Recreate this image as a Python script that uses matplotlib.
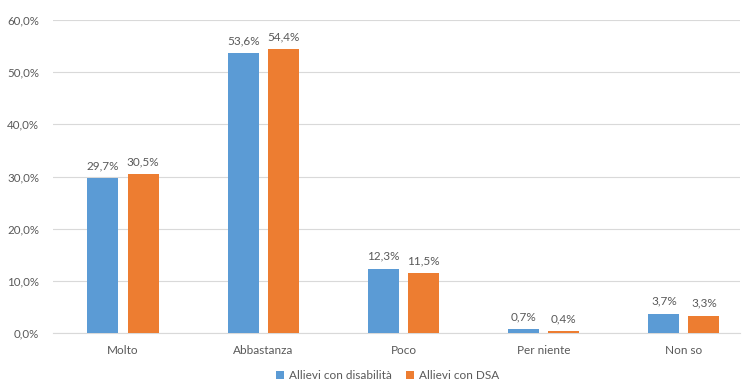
import matplotlib
matplotlib.use("Agg")
import matplotlib.pyplot as plt
import numpy as np

categories = ["Molto", "Abbastanza", "Poco", "Per niente", "Non so"]
disabilita = [29.7, 53.6, 12.3, 0.7, 3.7]
dsa = [30.5, 54.4, 11.5, 0.4, 3.3]
series_names = ["Allievi con disabilità", "Allievi con DSA"]
yticks = [0, 10, 20, 30, 40, 50, 60]

plt.rcParams['font.family'] = ['Lato', 'DejaVu Sans']
txt = '#595959'
blue = '#5B9BD5'
orange = '#ED7D31'

W, H = 745, 383
fig = plt.figure(figsize=(W / 100, H / 100), dpi=100)
ax = fig.add_axes([53 / W, 1 - 333 / H, (740 - 53) / W, (333 - 20) / H])

x = np.arange(len(categories))
w = 0.221
off = 0.143
b1 = ax.bar(x - off, disabilita, w, color=blue, label=series_names[0], zorder=3)
b2 = ax.bar(x + off, dsa, w, color=orange, label=series_names[1], zorder=3)

def fmt(v):
    return f"{v:.1f}%".replace('.', ',')

for bars, vals in ((b1, disabilita), (b2, dsa)):
    for r, v in zip(bars, vals):
        ax.annotate(fmt(v), (r.get_x() + r.get_width() / 2, v), xytext=(0, 5),
                    textcoords='offset points', ha='center', va='bottom',
                    fontsize=8.5, color=txt)

ax.set_xlim(-0.499, 4.40)
ax.set_ylim(0, 60)
ax.set_yticks(yticks)
ax.set_yticklabels([f"{t:.1f}%".replace('.', ',') for t in yticks], fontsize=8.3, color=txt)
ax.set_xticks(x)
ax.set_xticklabels(categories, fontsize=8.5, color=txt)
ax.tick_params(axis='both', length=0)
ax.tick_params(axis='x', pad=9)
ax.tick_params(axis='y', pad=10)
ax.grid(axis='y', color='#D9D9D9', linewidth=0.8, zorder=0)
for s in ['top', 'right', 'left']:
    ax.spines[s].set_visible(False)
ax.spines['bottom'].set_color('#D9D9D9')

leg = fig.legend(loc='lower center', bbox_to_anchor=(0.52, -0.022), ncol=2, frameon=False,
                 fontsize=8.5, handlelength=0.7, handleheight=0.7, handletextpad=0.4,
                 columnspacing=1.2)
for t in leg.get_texts():
    t.set_color(txt)

fig.savefig("out.png", dpi=100)
